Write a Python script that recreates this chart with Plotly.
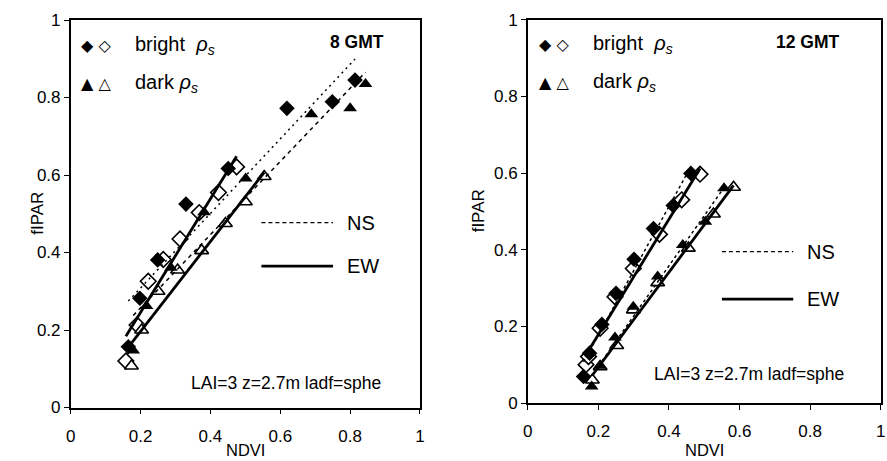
import numpy as np
import plotly.graph_objects as go

# ---------------- data ----------------
# Left panel: 8 GMT
L_bright_NS_x = [0.165, 0.198, 0.249, 0.330, 0.451, 0.619, 0.749, 0.814]
L_bright_NS_y = [0.157, 0.282, 0.381, 0.525, 0.617, 0.772, 0.789, 0.845]
L_bright_EW_x = [0.158, 0.190, 0.222, 0.265, 0.313, 0.368, 0.423, 0.475]
L_bright_EW_y = [0.120, 0.213, 0.326, 0.382, 0.435, 0.503, 0.555, 0.621]
L_dark_NS_x = [0.179, 0.217, 0.287, 0.382, 0.501, 0.689, 0.800, 0.844]
L_dark_NS_y = [0.147, 0.262, 0.361, 0.504, 0.591, 0.757, 0.772, 0.835]
L_dark_EW_x = [0.174, 0.203, 0.250, 0.306, 0.375, 0.443, 0.500, 0.554]
L_dark_EW_y = [0.107, 0.200, 0.300, 0.355, 0.405, 0.475, 0.531, 0.596]

# Right panel: 12 GMT
R_bright_NS_x = [0.158, 0.175, 0.210, 0.250, 0.301, 0.356, 0.412, 0.462]
R_bright_NS_y = [0.069, 0.130, 0.205, 0.286, 0.375, 0.455, 0.515, 0.599]
R_bright_EW_x = [0.165, 0.172, 0.205, 0.247, 0.299, 0.373, 0.436, 0.488]
R_bright_EW_y = [0.100, 0.121, 0.195, 0.277, 0.351, 0.440, 0.530, 0.597]
R_dark_NS_x = [0.181, 0.205, 0.247, 0.299, 0.368, 0.439, 0.503, 0.556]
R_dark_NS_y = [0.043, 0.097, 0.171, 0.251, 0.330, 0.412, 0.473, 0.560]
R_dark_EW_x = [0.183, 0.205, 0.252, 0.299, 0.368, 0.455, 0.526, 0.583]
R_dark_EW_y = [0.060, 0.095, 0.150, 0.243, 0.314, 0.404, 0.493, 0.563]

tick_vals = [0, 0.2, 0.4, 0.6, 0.8, 1]
tick_text = ["0", "0.2", "0.4", "0.6", "0.8", "1"]
panel_titles = ["8 GMT", "12 GMT"]
info_text = "LAI=3 z=2.7m ladf=sphe"

FONT = "Liberation Sans, Arial, sans-serif"

fig = go.Figure()

panels = [
    ("x", "y", [
        (L_bright_NS_x, L_bright_NS_y, "diamond", "black", "2px,4px", 1.5),
        (L_bright_EW_x, L_bright_EW_y, "diamond-open", "white", None, 2.8),
        (L_dark_NS_x, L_dark_NS_y, "triangle-up", "black", "4px,4px", 1.5),
        (L_dark_EW_x, L_dark_EW_y, "triangle-up-open", "white", None, 2.8),
    ]),
    ("x2", "y2", [
        (R_bright_NS_x, R_bright_NS_y, "diamond", "black", "3px,3px", 1.5),
        (R_bright_EW_x, R_bright_EW_y, "diamond-open", "white", None, 2.8),
        (R_dark_NS_x, R_dark_NS_y, "triangle-up", "black", "3px,3px", 1.5),
        (R_dark_EW_x, R_dark_EW_y, "triangle-up-open", "white", None, 2.8),
    ]),
]

for xa, ya, series in panels:
    # open markers first, filled on top
    for sx, sy, sym, col, dash, lw in sorted(series, key=lambda s: 0 if "open" in s[2] else 1):
        fig.add_trace(go.Scatter(
            x=sx, y=sy, mode="markers", xaxis=xa, yaxis=ya, showlegend=False,
            marker=dict(symbol=sym.replace("-open", ""), size=12,
                        color=col, line=dict(color="black", width=1.6 if "open" in sym else 0))))
    # linear trend lines through each series
    for sx, sy, sym, col, dash, lw in series:
        k, b = np.polyfit(sx, sy, 1)
        xs = np.array([min(sx), max(sx)])
        fig.add_trace(go.Scatter(
            x=xs, y=k * xs + b, mode="lines", xaxis=xa, yaxis=ya, showlegend=False,
            line=dict(color="black", width=lw, dash=dash if dash else "solid")))

axis_common = dict(range=[0, 1], tickvals=tick_vals, ticktext=tick_text,
                   showgrid=False, zeroline=False, showline=True, linecolor="black",
                   linewidth=1.5, mirror=True, ticks="outside", ticklen=5,
                   tickcolor="black", tickwidth=1.2, automargin=False,
                   tickfont=dict(family=FONT, size=17, color="black"))

fig.update_layout(
    width=887, height=461, margin=dict(l=0, r=0, t=0, b=0, pad=0), autosize=False,
    paper_bgcolor="white", plot_bgcolor="white",
    xaxis=dict(domain=[0.0797, 0.4735], anchor="y", ticklabelstandoff=7, **axis_common),
    yaxis=dict(domain=[0.116, 0.9566], anchor="x", **axis_common),
    xaxis2=dict(domain=[0.595, 0.993], anchor="y2", ticklabelstandoff=7, **axis_common),
    yaxis2=dict(domain=[0.1258, 0.9573], anchor="x2", **axis_common),
)

ann = []
shapes = []
for i, (xd, yd) in enumerate([("x domain", "y domain"), ("x2 domain", "y2 domain")]):
    row_y = [0.934, 0.836]
    ann.append(dict(xref=xd, yref=yd, x=0.025, y=row_y[0], text="◆ ◇", showarrow=False,
                    xanchor="left", yanchor="middle", font=dict(family="DejaVu Sans", size=16, color="black")))
    ann.append(dict(xref=xd, yref=yd, x=0.025, y=row_y[1], text="▲ △", showarrow=False,
                    xanchor="left", yanchor="middle", font=dict(family="DejaVu Sans", size=16, color="black")))
    ann.append(dict(xref=xd, yref=yd, x=0.178, y=row_y[0], text="bright  <i>ρ</i><sub><i>s</i></sub>",
                    showarrow=False, xanchor="left", yanchor="middle",
                    font=dict(family=FONT, size=20, color="black")))
    ann.append(dict(xref=xd, yref=yd, x=0.178, y=row_y[1], text="dark <i>ρ</i><sub><i>s</i></sub>",
                    showarrow=False, xanchor="left", yanchor="middle",
                    font=dict(family=FONT, size=20, color="black")))
    ann.append(dict(xref=xd, yref=yd, x=[0.82, 0.795][i], y=0.942, text="<b>%s</b>" % panel_titles[i],
                    showarrow=False, xanchor="center", yanchor="middle",
                    font=dict(family=FONT, size=17.5, color="black")))
    ann.append(dict(xref=xd, yref=yd, x=[0.616, 0.626][i], y=[0.062, 0.076][i], text=info_text,
                    showarrow=False, xanchor="center", yanchor="middle",
                    font=dict(family=FONT, size=17.5, color="black")))
    ns_y = [0.477, 0.395][i]
    ew_y = [0.365, 0.271][i]
    x0, x1 = [(0.546, 0.751), (0.55, 0.752)][i]
    shapes.append(dict(type="line", xref=xd, yref=yd, x0=x0, x1=x1, y0=ns_y, y1=ns_y,
                       line=dict(color="black", width=1.3, dash="4px,3px")))
    shapes.append(dict(type="line", xref=xd, yref=yd, x0=x0, x1=x1, y0=ew_y, y1=ew_y,
                       line=dict(color="black", width=2.8)))
    ann.append(dict(xref=xd, yref=yd, x=0.785, y=ns_y, text="NS", showarrow=False,
                    xanchor="left", yanchor="middle", font=dict(family=FONT, size=20, color="black")))
    ann.append(dict(xref=xd, yref=yd, x=0.785, y=ew_y, text="EW", showarrow=False,
                    xanchor="left", yanchor="middle", font=dict(family=FONT, size=20, color="black")))
    ann.append(dict(xref=xd, yref="paper", x=0.5, y=1 - 450 / 461, text="NDVI", showarrow=False,
                    xanchor="center", yanchor="middle", font=dict(family=FONT, size=16.5, color="black")))
    ann.append(dict(xref="paper", yref=yd, x=[38 / 887, 478 / 887][i], y=0.5, text="fIPAR",
                    textangle=-90, showarrow=False, xanchor="center", yanchor="middle",
                    font=dict(family=FONT, size=17, color="black")))

fig.update_layout(annotations=ann, shapes=shapes)
fig.write_html("out.html", post_script="document.body.style.margin='0px';")
